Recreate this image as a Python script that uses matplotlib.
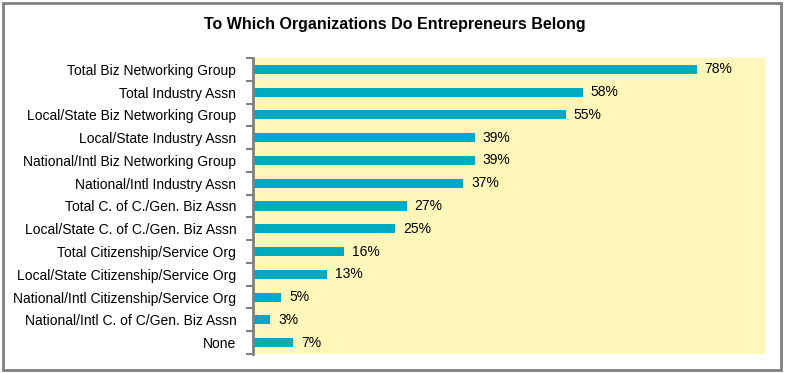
import matplotlib.pyplot as plt
import numpy as np
from matplotlib.ticker import FixedLocator

plt.rcParams['font.family'] = ['Liberation Sans', 'DejaVu Sans']

categories = [
    'Total Biz Networking Group',
    'Total Industry Assn',
    'Local/State Biz Networking Group',
    'Local/State Industry Assn',
    'National/Intl Biz Networking Group',
    'National/Intl Industry Assn',
    'Total C. of C./Gen. Biz Assn',
    'Local/State C. of C./Gen. Biz Assn',
    'Total Citizenship/Service Org',
    'Local/State Citizenship/Service Org',
    'National/Intl Citizenship/Service Org',
    'National/Intl C. of C/Gen. Biz Assn',
    'None',
]
values = [78, 58, 55, 39, 39, 37, 27, 25, 16, 13, 5, 3, 7]

bar_color = '#00AABF'
bg_color = '#FFF6BA'
gray = '#808080'

fig = plt.figure(figsize=(7.85, 3.73), dpi=100)
ax = fig.add_axes([253 / 785, 1 - 354 / 373, 512 / 785, 296 / 373])
ax.set_facecolor(bg_color)

y = np.arange(len(categories))
ax.barh(y, values, height=0.4, color=bar_color, zorder=2)
for yi, v in zip(y, values):
    ax.text(v + 1.4, yi, f'{v}%', va='center', ha='left', fontsize=10)

ax.set_xlim(0, 90)
ax.set_ylim(len(categories) - 0.5, -0.5)
ax.set_yticks(y)
ax.set_yticklabels(categories, fontsize=10)
ax.tick_params(axis='y', which='major', length=0, pad=12)
ax.yaxis.set_minor_locator(FixedLocator(np.arange(-0.5, len(categories), 1)))
ax.tick_params(axis='y', which='minor', length=5, width=1.5, color=gray)
ax.set_xticks([])
for s in ['top', 'right', 'bottom']:
    ax.spines[s].set_visible(False)
ax.spines['left'].set_color(gray)
ax.spines['left'].set_linewidth(2)

fig.text(395 / 785, 1 - 24 / 373, 'To Which Organizations Do Entrepreneurs Belong',
         ha='center', va='center', fontsize=11.5, fontweight='bold')

# outer frame
fig.add_artist(plt.Rectangle((3 / 785, 3 / 373), 778 / 785, 367 / 373,
                             transform=fig.transFigure, fill=False,
                             edgecolor=gray, linewidth=2))

fig.savefig('out.png', dpi=100)
